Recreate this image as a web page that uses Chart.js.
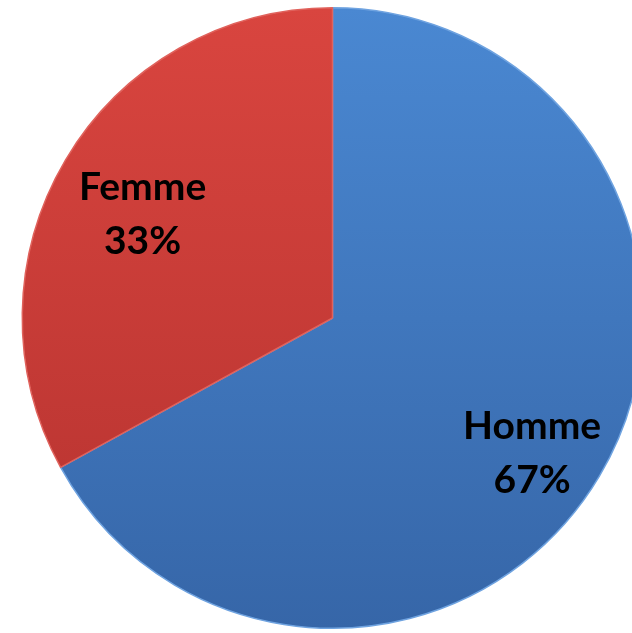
<!DOCTYPE html>
<html>
<head>
<meta charset="utf-8">
<script src="https://cdn.jsdelivr.net/npm/chart.js@4"></script>
<style>
  html, body { margin: 0; padding: 0; background: #fff; overflow: hidden; }
  #wrap { width: 646px; height: 633px; position: relative; }
</style>
</head>
<body>
<div id="wrap"><canvas id="pieChart"></canvas></div>
<script>
const categories = ['Homme', 'Femme'];
const shares = [67, 33];
const shareLabels = ['67%', '33%'];

// top/bottom shades for the soft vertical gradient
const topColors = ['#4a88d2', '#d9453f'];
const bottomColors = ['#3666a8', '#b5322f'];

const sliceFill = (context) => {
    const chart = context.chart;
    const area = chart.chartArea;
    if (!area) return topColors[context.dataIndex];
    const g = chart.ctx.createLinearGradient(0, area.top, 0, area.bottom);
    g.addColorStop(0, topColors[context.dataIndex]);
    g.addColorStop(1, bottomColors[context.dataIndex]);
    return g;
};

const sliceLabels = {
    id: 'sliceLabels',
    afterDatasetsDraw(chart, args, opts) {
        const ctx = chart.ctx;
        const meta = chart.getDatasetMeta(0);
        ctx.save();
        ctx.font = 'bold 39px Lato, "Open Sans", sans-serif';
        ctx.fillStyle = '#000';
        ctx.textAlign = 'center';
        ctx.textBaseline = 'middle';
        meta.data.forEach((arc, i) => {
            const mid = (arc.startAngle + arc.endAngle) / 2;
            const r = arc.outerRadius * opts.distance[i];
            const x = arc.x + Math.cos(mid) * r + opts.dx[i];
            const y = arc.y + Math.sin(mid) * r + opts.dy[i];
            ctx.fillText(categories[i], x, y - 27);
            ctx.fillText(shareLabels[i], x, y + 27);
        });
        ctx.restore();
    }
};

new Chart(document.getElementById('pieChart').getContext('2d'), {
    type: 'pie',
    data: {
        labels: categories,
        datasets: [{
            data: shares,
            backgroundColor: sliceFill,
            borderColor: ['#6fa3e0', '#e0625c'],
            borderWidth: 1.5
        }]
    },
    options: {
        responsive: true,
        maintainAspectRatio: false,
        animation: false,
        layout: { padding: { left: 21, right: 2, top: 7, bottom: 4 } },
        plugins: {
            legend: { display: false },
            tooltip: { enabled: false },
            sliceLabels: { distance: [0.77, 0.7], dx: [-6, -3], dy: [14, 7] }
        }
    },
    plugins: [sliceLabels]
});
</script>
</body>
</html>
